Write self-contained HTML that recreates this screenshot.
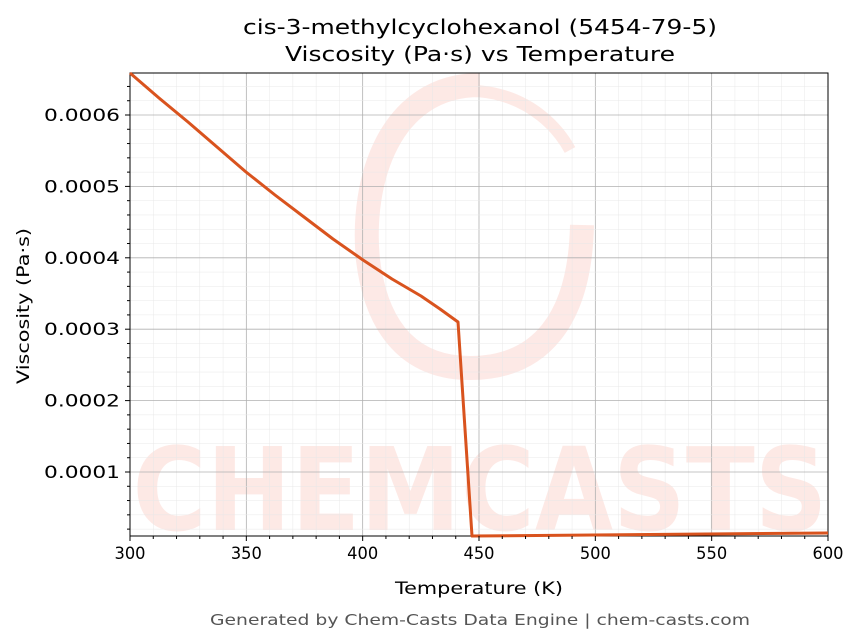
<!DOCTYPE html>
<html><head><meta charset="utf-8"><style>
body{margin:0;background:#fff;}
svg{display:block;font-family:"DejaVu Sans","Liberation Sans",sans-serif;}
</style></head><body>
<svg width="863" height="644" viewBox="0 0 863 644" xmlns="http://www.w3.org/2000/svg">
<rect width="863" height="644" fill="#fff"/>
<g opacity="0.25">
<path d="M480,85 C390,85 360,180 368,260 C378,340 420,368 470,368 C540,368 580,320 582,225" fill="none" stroke="#f9a99b" stroke-width="24"/>
<path d="M420,105 C470,75 540,95 570,150" fill="none" stroke="#f9a99b" stroke-width="12"/>
<text x="480" y="530" font-size="115" font-weight="bold" fill="#f9a99b" text-anchor="middle" textLength="695" lengthAdjust="spacingAndGlyphs">CHEMCASTS</text>
</g>
<g id="grid"></g>
<rect x="130" y="73" width="698" height="463" fill="none" stroke="#000" stroke-width="1"/>
<polyline fill="none" stroke="#d9531e" stroke-width="3" stroke-linejoin="round"
points="130,73 159,98 188,122 217,147 246,172 275,195 304,217 333,239 363,260 392,279 421,296 440,309 458,322 472,536 828,533"/>
<text x="480" y="34" font-size="20" text-anchor="middle" textLength="474" lengthAdjust="spacingAndGlyphs">cis-3-methylcyclohexanol (5454-79-5)</text>
<text x="480" y="61" font-size="20" text-anchor="middle" textLength="390" lengthAdjust="spacingAndGlyphs">Viscosity (Pa·s) vs Temperature</text>
<text x="479" y="594" font-size="17" text-anchor="middle" textLength="168" lengthAdjust="spacingAndGlyphs">Temperature (K)</text>
<text x="29" y="306" font-size="17" text-anchor="middle" transform="rotate(-90 29 306)" textLength="156" lengthAdjust="spacingAndGlyphs">Viscosity (Pa·s)</text>
<text x="480" y="625" font-size="15" fill="#555" text-anchor="middle" textLength="540" lengthAdjust="spacingAndGlyphs">Generated by Chem-Casts Data Engine | chem-casts.com</text>
<g id="ticks" font-size="17"></g>
</svg>
<script>
var ns="http://www.w3.org/2000/svg",g=document.getElementById('grid'),t=document.getElementById('ticks');
function L(p,x1,y1,x2,y2,c,w){var l=document.createElementNS(ns,'line');l.setAttribute('x1',x1);l.setAttribute('y1',y1);l.setAttribute('x2',x2);l.setAttribute('y2',y2);l.setAttribute('stroke',c);l.setAttribute('stroke-width',w);p.appendChild(l);}
function T(x,y,s,a,len){var e=document.createElementNS(ns,'text');e.setAttribute('x',x);e.setAttribute('y',y);e.setAttribute('text-anchor',a);e.setAttribute('textLength',len);e.setAttribute('lengthAdjust','spacingAndGlyphs');e.textContent=s;t.appendChild(e);}
for(var k=300;k<=600;k+=10){var x=130+(k-300)*698/300;var maj=k%50==0;
L(g,x,73,x,536,maj?'#b0b0b0':'#e8e8e8',maj?0.8:0.5);L(t,x,536,x,536+(maj?5:3),'#000',1);
if(maj)T(x,559,k,'middle',31);}
for(var i=0;i<=33;i++){var v=i*0.00002;var y=543.4-v*714000;if(y>536||y<73)continue;var maj=i%5==0;
L(g,130,y,828,y,maj?'#b0b0b0':'#e8e8e8',maj?0.8:0.5);L(t,130,y,130-(maj?5:3),y,'#000',1);
if(maj&&i>0)T(120,y+6,'0.000'+(i/5),'end',76);}
</script>
</body></html>
